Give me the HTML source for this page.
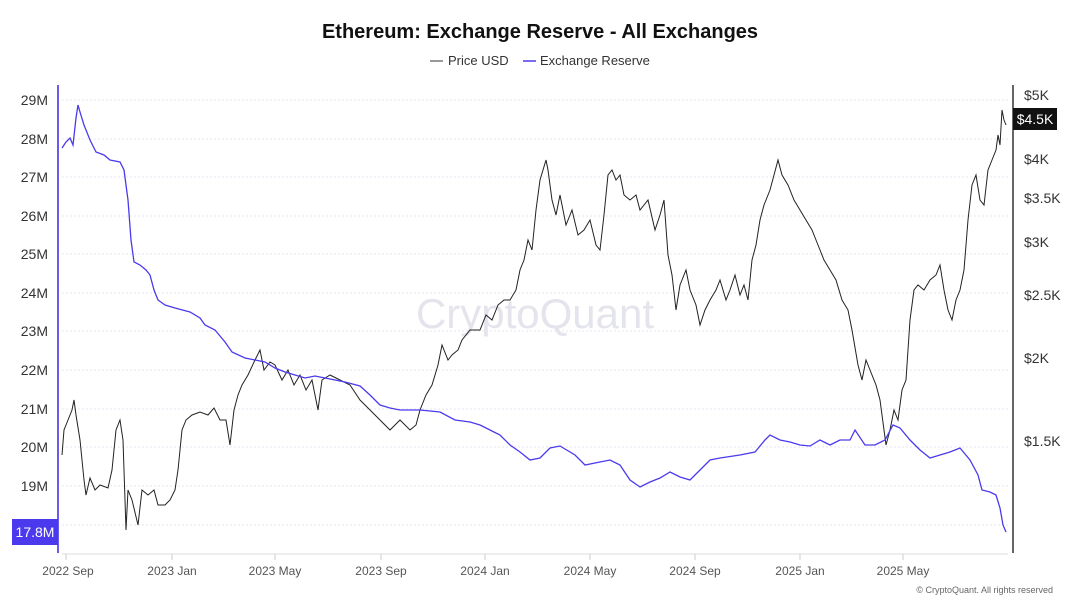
<!DOCTYPE html><html><head><meta charset="utf-8"><style>
body{margin:0;background:#fff;font-family:"Liberation Sans",sans-serif;}
</style></head><body>
<svg width="1080" height="608" xmlns="http://www.w3.org/2000/svg" font-family="Liberation Sans, sans-serif">
<rect width="1080" height="608" fill="#fff"/>
<text x="540" y="38" text-anchor="middle" font-size="20" font-weight="bold" fill="#111">Ethereum: Exchange Reserve - All Exchanges</text>
<line x1="430" y1="61" x2="443" y2="61" stroke="#333" stroke-width="1"/>
<text x="448" y="65" font-size="13" fill="#333">Price USD</text>
<line x1="523" y1="61" x2="536" y2="61" stroke="#4b3aed" stroke-width="1.5"/>
<text x="540" y="65" font-size="13" fill="#333">Exchange Reserve</text>
<g stroke="#e6e6f0" stroke-dasharray="2,2" stroke-width="1">
<line x1="62" x2="1008" y1="100" y2="100"/><line x1="62" x2="1008" y1="139" y2="139"/><line x1="62" x2="1008" y1="177" y2="177"/><line x1="62" x2="1008" y1="216" y2="216"/><line x1="62" x2="1008" y1="254" y2="254"/><line x1="62" x2="1008" y1="293" y2="293"/><line x1="62" x2="1008" y1="331" y2="331"/><line x1="62" x2="1008" y1="370" y2="370"/><line x1="62" x2="1008" y1="409" y2="409"/><line x1="62" x2="1008" y1="447" y2="447"/><line x1="62" x2="1008" y1="486" y2="486"/><line x1="62" x2="1008" y1="525" y2="525"/>
</g>
<text x="535" y="328" text-anchor="middle" font-size="42" fill="#e4e4ec">CryptoQuant</text>
<line x1="58" y1="85" x2="58" y2="553" stroke="#6a5af0" stroke-width="2"/>
<line x1="1013" y1="85" x2="1013" y2="553" stroke="#333" stroke-width="1.5"/>
<line x1="62" y1="554" x2="1008" y2="554" stroke="#ddd"/>
<g font-size="14" fill="#333" text-anchor="end">
<text x="48" y="105">29M</text><text x="48" y="144">28M</text><text x="48" y="182">27M</text><text x="48" y="221">26M</text><text x="48" y="259">25M</text><text x="48" y="298">24M</text><text x="48" y="336">23M</text><text x="48" y="375">22M</text><text x="48" y="414">21M</text><text x="48" y="452">20M</text><text x="48" y="491">19M</text>
</g>
<rect x="12" y="519" width="46" height="26" fill="#4b3aed"/>
<text x="35" y="537" text-anchor="middle" font-size="14" fill="#fff">17.8M</text>
<g font-size="14" fill="#333">
<text x="1024" y="100">$5K</text><text x="1024" y="164">$4K</text><text x="1024" y="203">$3.5K</text><text x="1024" y="247">$3K</text><text x="1024" y="300">$2.5K</text><text x="1024" y="363">$2K</text><text x="1024" y="446">$1.5K</text>
</g>
<rect x="1013" y="108" width="44" height="22" fill="#111"/>
<text x="1035" y="124" text-anchor="middle" font-size="14" fill="#fff">$4.5K</text>
<g font-size="12" fill="#555" text-anchor="middle">
<text x="68" y="575">2022 Sep</text><text x="172" y="575">2023 Jan</text><text x="275" y="575">2023 May</text><text x="381" y="575">2023 Sep</text><text x="485" y="575">2024 Jan</text><text x="590" y="575">2024 May</text><text x="695" y="575">2024 Sep</text><text x="800" y="575">2025 Jan</text><text x="903" y="575">2025 May</text>
</g>
<g stroke="#ccc"><line x1="66" x2="66" y1="554" y2="560"/><line x1="172" x2="172" y1="554" y2="560"/><line x1="275" x2="275" y1="554" y2="560"/><line x1="381" x2="381" y1="554" y2="560"/><line x1="485" x2="485" y1="554" y2="560"/><line x1="590" x2="590" y1="554" y2="560"/><line x1="695" x2="695" y1="554" y2="560"/><line x1="800" x2="800" y1="554" y2="560"/><line x1="903" x2="903" y1="554" y2="560"/></g>
<text x="1053" y="593" text-anchor="end" font-size="9" fill="#666">© CryptoQuant. All rights reserved</text>
<polyline fill="none" stroke="#222" stroke-width="1" points="62,455 64,430 68,420 72,410 74,400 76,415 80,440 84,480 86,495 90,478 95,490 100,485 108,488 112,470 116,430 120,420 123,440 126,530 128,490 132,500 138,525 142,490 148,495 154,490 158,505 165,505 170,500 175,490 178,470 182,430 186,420 192,415 200,412 208,415 214,408 220,420 226,420 230,445 234,410 238,395 242,385 248,375 255,360 260,350 264,370 270,362 275,365 282,380 288,370 294,385 300,375 306,390 312,380 318,410 322,380 330,375 340,380 350,385 360,400 370,410 380,420 390,430 400,420 410,430 416,425 420,410 426,395 432,385 438,365 442,345 448,360 452,355 458,350 462,340 470,330 475,330 480,330 486,315 492,320 498,305 504,300 510,300 516,290 520,270 524,260 528,240 532,250 536,210 540,180 543,170 546,160 548,170 552,200 556,215 560,195 566,225 572,210 578,235 584,230 590,220 596,245 600,250 604,215 608,175 612,170 616,180 620,175 624,195 630,200 636,195 640,210 648,200 655,230 660,215 664,200 668,255 672,275 676,310 680,285 686,270 690,290 696,305 700,325 705,310 710,300 716,290 720,280 726,300 730,290 735,275 740,295 744,285 748,300 752,260 756,245 760,220 764,205 770,190 774,175 778,160 782,175 788,185 794,200 800,210 806,220 812,230 818,245 824,260 830,270 836,280 842,300 848,310 852,330 858,365 862,380 866,360 870,370 876,385 880,400 884,430 886,445 890,430 894,410 898,420 902,390 906,380 910,320 914,290 918,285 924,290 930,280 936,275 940,265 944,290 948,310 952,320 956,300 960,290 964,270 968,220 972,185 976,175 980,200 984,205 988,170 992,160 996,150 998,135 1000,145 1002,110 1004,120 1006,125"/>
<polyline fill="none" stroke="#4b3aed" stroke-width="1.3" points="62,148 66,142 70,138 73,145 76,118 78,105 80,112 84,125 90,140 96,152 104,155 110,160 120,162 124,170 128,200 131,240 134,262 140,265 146,270 150,275 154,290 158,300 165,305 175,308 190,312 200,318 205,325 215,330 225,342 232,352 245,358 255,360 265,362 275,368 285,372 295,375 305,378 315,376 325,378 335,380 345,382 360,386 370,395 380,405 390,408 400,410 420,410 440,412 455,420 470,422 480,425 490,430 500,435 510,445 520,452 530,460 540,458 550,448 560,446 575,455 585,465 600,462 610,460 620,465 630,480 640,487 650,482 660,478 670,472 680,477 690,480 700,470 710,460 720,458 740,455 755,452 765,440 770,435 780,440 790,442 800,445 810,446 820,440 830,445 840,440 850,440 855,430 865,445 875,445 885,440 893,425 900,428 910,440 920,450 930,458 940,455 950,452 960,448 970,460 978,475 982,490 990,492 996,495 1000,508 1003,525 1006,532"/>
</svg>
</body></html>
